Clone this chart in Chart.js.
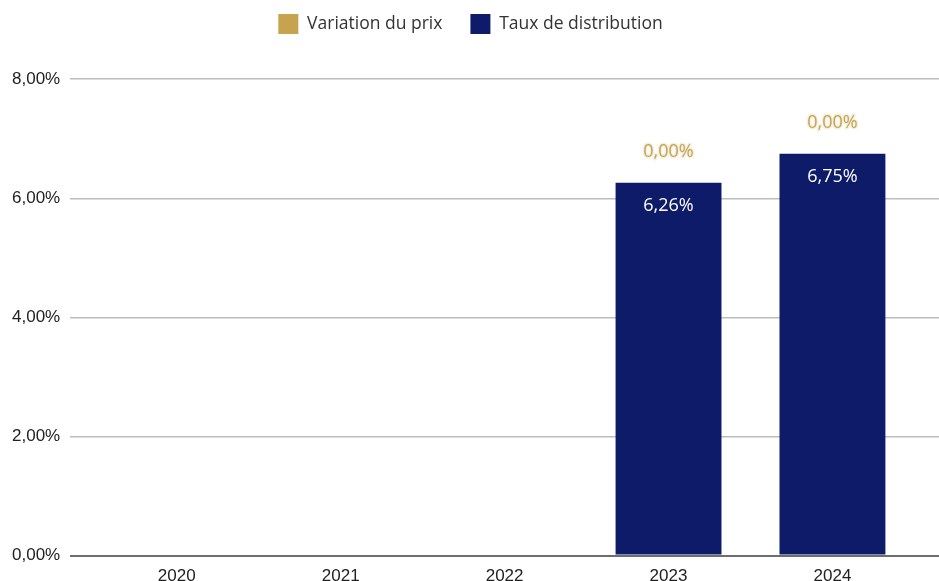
<!DOCTYPE html>
<html>
<head>
<meta charset="utf-8">
<script src="https://cdn.jsdelivr.net/npm/chart.js@4.4.1/dist/chart.umd.min.js"></script>
<style>
  html, body { margin: 0; padding: 0; background: #fff; }
  #wrap { width: 939px; height: 581px; }
</style>
</head>
<body>
<div id="wrap"><canvas id="myChart"></canvas></div>
<script>
const years = ["2020", "2021", "2022", "2023", "2024"];
const variationPrix = [null, null, null, 0, 0];
const tauxDistribution = [null, null, null, 6.26, 6.75];
const yTicks = [0, 2, 4, 6, 8];

const gold = "#c6a44f";
const navy = "#0e1b68";

function pct(v) {
  return v.toFixed(2).replace(".", ",") + "%";
}

// labels inside / above the bars
const barLabels = {
  id: "barLabels",
  afterDatasetsDraw(chart) {
    const c = chart.ctx;
    const taux = chart.getDatasetMeta(1);
    c.save();
    c.textAlign = "center";
    c.textBaseline = "middle";
    c.font = "18px 'Open Sans'";
    taux.data.forEach((bar, i) => {
      if (tauxDistribution[i] == null) return;
      c.fillStyle = "#ffffff";
      c.fillText(pct(tauxDistribution[i]), bar.x, bar.y + 23);
      if (variationPrix[i] != null) {
        c.lineWidth = 3;
        c.strokeStyle = "#f4f0e4";
        c.lineJoin = "round";
        c.strokeText(pct(variationPrix[i]), bar.x, bar.y - 31);
        c.fillStyle = gold;
        c.fillText(pct(variationPrix[i]), bar.x, bar.y - 31);
      }
    });
    c.restore();
  },
};

new Chart(document.getElementById("myChart"), {
  type: "bar",
  data: {
    labels: years,
    datasets: [
      {
        label: "Variation du prix",
        data: variationPrix,
        backgroundColor: gold,
        borderWidth: 0,
      },
      {
        label: "Taux de distribution",
        data: tauxDistribution,
        backgroundColor: navy,
        borderWidth: 0,
      },
    ],
  },
  options: {
    responsive: true,
    maintainAspectRatio: false,
    animation: false,
    layout: { padding: { top: -14, right: 0, left: 2, bottom: -9 } },
    plugins: {
      legend: {
        position: "top",
        labels: {
          boxWidth: 20,
          boxHeight: 20,
          padding: 28,
          color: "#333",
          font: { family: "'Open Sans'", size: 17.5 },
        },
      },
      // empty spacer between legend and plot
      title: {
        display: true,
        text: " ",
        weight: 500,
        font: { size: 1 },
        padding: { top: 0, bottom: 34 },
      },
      tooltip: { enabled: false },
    },
    datasets: { bar: { categoryPercentage: 1, barPercentage: 0.646 } },
    scales: {
      x: {
        stacked: true,
        grid: { display: false },
        border: { display: false },
        ticks: { color: "#222", font: { family: "'Liberation Sans'", size: 17 }, padding: 3 },
        afterBuildTicks(scale) {
          scale._startValue = -0.65;
          scale._valueRange = 5.3;
        },
      },
      y: {
        stacked: true,
        min: 0,
        max: 8,
        afterBuildTicks(scale) {
          scale.ticks = yTicks.map((v) => ({ value: v }));
        },
        grid: {
          color: (ctx) => (ctx.tick.value === 0 ? "#6e6e6e" : "#bdbdbd"),
          lineWidth: (ctx) => (ctx.tick.value === 0 ? 2 : 1.5),
          drawTicks: false,
        },
        border: { display: false },
        ticks: {
          color: "#222",
          padding: 10,
          font: { family: "'Liberation Sans'", size: 17 },
          callback: (v) => pct(v),
        },
      },
    },
  },
  plugins: [barLabels],
});
</script>
</body>
</html>
